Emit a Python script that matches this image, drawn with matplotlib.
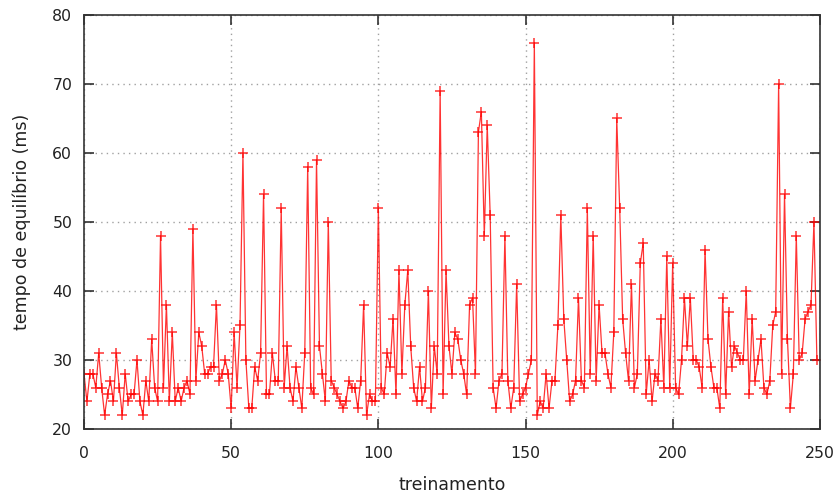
import matplotlib
matplotlib.use("Agg")
import matplotlib.pyplot as plt
import numpy as np

# tempo de equilibrio por treinamento
tempo = [
    28, 24, 28, 28, 26, 31, 26, 22, 25, 27,
    24, 31, 26, 22, 28, 24, 25, 25, 30, 24,
    22, 27, 24, 33, 26, 24, 48, 26, 38, 24,
    34, 24, 26, 24, 26, 27, 25, 49, 27, 34,
    32, 28, 28, 29, 29, 38, 27, 28, 30, 28,
    23, 34, 26, 35, 60, 30, 23, 23, 29, 27,
    31, 54, 25, 25, 31, 27, 27, 52, 26, 32,
    26, 24, 29, 26, 23, 31, 58, 26, 25, 59,
    32, 28, 24, 50, 27, 26, 25, 24, 23, 24,
    27, 26, 26, 23, 27, 38, 22, 25, 24, 24,
    52, 26, 25, 31, 29, 36, 25, 43, 28, 38,
    43, 32, 26, 24, 29, 24, 26, 40, 23, 32,
    28, 69, 25, 43, 32, 28, 34, 33, 30, 28,
    25, 38, 39, 28, 63, 66, 48, 64, 51, 26,
    23, 27, 28, 48, 27, 23, 26, 41, 24, 25,
    26, 28, 30, 76, 22, 24, 23, 28, 23, 27,
    27, 35, 51, 36, 30, 24, 25, 27, 39, 27,
    26, 52, 28, 48, 27, 38, 31, 31, 28, 26,
    34, 65, 52, 36, 31, 27, 41, 26, 28, 44,
    47, 25, 30, 24, 28, 27, 36, 26, 45, 26,
    44, 26, 25, 30, 39, 32, 39, 30, 30, 29,
    26, 46, 33, 29, 26, 26, 23, 39, 25, 37,
    29, 32, 31, 30, 30, 40, 25, 36, 27, 30,
    33, 26, 25, 27, 35, 37, 70, 28, 54, 33,
    23, 28, 48, 30, 31, 36, 37, 38, 50, 30,
]
treinamento = np.arange(len(tempo))

x_ticks = [0, 50, 100, 150, 200, 250]
y_ticks = [20, 30, 40, 50, 60, 70, 80]

fig = plt.figure(figsize=(8.4, 4.98), dpi=100)
ax = fig.add_axes([0.1, 0.1386, 0.876, 0.8314])

ax.plot(treinamento, tempo, color='#ff0000', linewidth=0.9, alpha=0.8,
        marker='+', markersize=7, markeredgewidth=1.1, markeredgecolor='#ff0000')

ax.set_xlim(0, 250)
ax.set_ylim(20, 80)
ax.set_xticks(x_ticks)
ax.set_yticks(y_ticks)

ax.grid(True, color='#a0a0a0', linestyle=(0, (1, 3)), linewidth=1)
ax.tick_params(direction='in', length=7, width=1.1, top=True, right=True,
               labelsize=11.3, colors='#222222')
ax.tick_params(axis='x', pad=12)
ax.tick_params(axis='y', pad=8.5)
for s in ax.spines.values():
    s.set_linewidth(1.2)
    s.set_color('#333333')

ax.set_xlabel('treinamento', fontsize=12.5, labelpad=11, color='#222222')
ax.set_ylabel('tempo de equilíbrio (ms)', fontsize=12.5, labelpad=15, color='#222222')

fig.savefig('out.png', dpi=100)
